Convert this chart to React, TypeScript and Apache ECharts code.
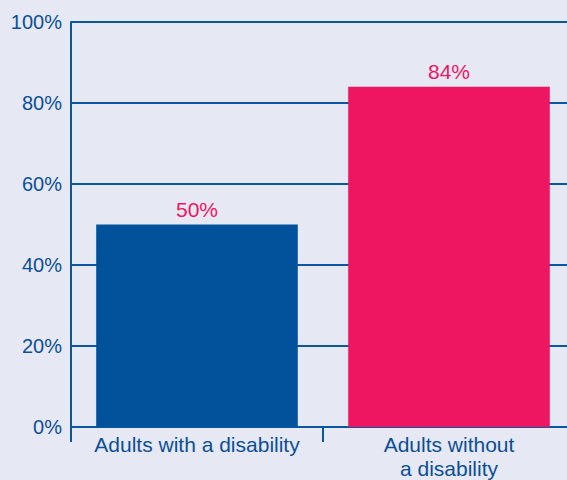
import React, { useEffect, useRef } from "react";
import * as echarts from "echarts";

const categories = ["Adults with a disability", "Adults without\na disability"];
const values = [50, 84];
const barColors = ["#02519b", "#ee1661"];
const labelColor = "#ee1661";

const axisBlue = "#0b56a0";
const textBlue = "#0c4f98";
const font = "Liberation Sans, Arial, sans-serif";

export default function App() {
  const ref = useRef<HTMLDivElement>(null);

  useEffect(() => {
    if (!ref.current) return;
    const chart = echarts.init(ref.current, undefined, { renderer: "svg" });
    chart.setOption({
      animation: false,
      backgroundColor: "#e6e9f3",
      grid: { left: 71, right: 0, top: 22, bottom: 50, containLabel: false },
      xAxis: {
        type: "category",
        data: categories,
        axisLine: { show: true, lineStyle: { color: axisBlue, width: 2 } },
        axisTick: { show: true, length: 15, lineStyle: { color: axisBlue, width: 2 } },
        axisLabel: {
          color: textBlue,
          fontFamily: font,
          fontSize: 21,
          lineHeight: 24,
          margin: 5,
          interval: 0,
        },
      },
      yAxis: {
        type: "value",
        min: 0,
        max: 100,
        interval: 20,
        axisLine: { show: true, lineStyle: { color: axisBlue, width: 2 } },
        axisTick: { show: false },
        splitLine: { show: true, lineStyle: { color: axisBlue, width: 2 } },
        axisLabel: {
          color: textBlue,
          fontFamily: font,
          fontSize: 20,
          margin: 9,
          formatter: "{value}%",
        },
      },
      series: [
        {
          type: "bar",
          barWidth: "80%",
          data: values.map((v, i) => ({ value: v, itemStyle: { color: barColors[i] } })),
          label: {
            show: true,
            position: "top",
            distance: 5,
            color: labelColor,
            fontFamily: font,
            fontSize: 21,
            formatter: "{c}%",
          },
        },
      ],
    });
    return () => chart.dispose();
  }, []);

  return (
    <div style={{ position: "fixed", left: 0, top: 0, width: 567, height: 480, overflow: "hidden" }}>
      <div ref={ref} style={{ width: 575, height: 480 }} />
    </div>
  );
}
